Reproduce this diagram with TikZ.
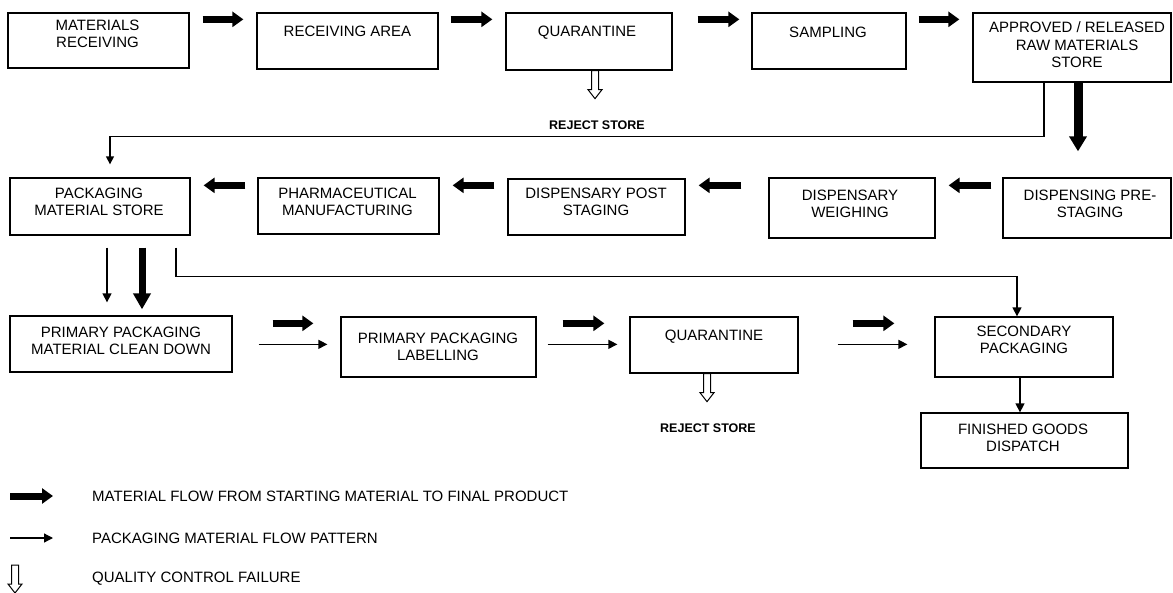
\documentclass[tikz,border=0pt]{standalone}
\usepackage{fontspec}
\setmainfont{Liberation Sans}
\usetikzlibrary{arrows.meta}

\begin{document}
\begin{tikzpicture}[x=1pt, y=-1pt,
  box/.style={draw, line width=1.3pt, rectangle, inner sep=0pt},
  lbl/.style={align=center, inner sep=0pt, font=\fontsize{15}{17.5}\selectfont},
  note/.style={inner sep=0pt, font=\bfseries\fontsize{12.5}{15}\selectfont},
  legend/.style={anchor=west, inner sep=0pt, font=\fontsize{15}{17.5}\selectfont},
  flow/.style={line width=7pt, -{Triangle[length=11pt,width=15pt]}},
  bigflow/.style={line width=9pt, -{Triangle[length=15pt,width=17pt]}},
  pack/.style={line width=1.3pt, -{Triangle[length=9pt,width=9pt]}},
  link/.style={line width=1.3pt},
  qcfail/.pic={\draw[line width=1pt, fill=white]
      (-3.5,0) -- (-3.5,19) -- (-7,19) -- (0,28) -- (7,19) -- (3.5,19) -- (3.5,0) -- cycle;}
]
\useasboundingbox (0,0) rectangle (1173,592);

% ---- row 1: receipt of starting materials ----
\node[box, minimum width=181pt, minimum height=55pt] (mr) at (98.5,40.5) {};
\node[box, minimum width=181pt, minimum height=56pt] (ra) at (347.5,41) {};
\node[box, minimum width=166pt, minimum height=57pt] (q1) at (589,41.5) {};
\node[box, minimum width=154pt, minimum height=56pt] (sa) at (829,41) {};
\node[box, minimum width=198pt, minimum height=69pt] (ap) at (1072,47.5) {};

\node[lbl] (mr-t) at (97.5,34) {MATERIALS\\RECEIVING};
\node[lbl] (ra-t) at (347.5,31.5) {RECEIVING AREA};
\node[lbl] (q1-t) at (587,33) {QUARANTINE};
\node[lbl] (sa-t) at (828,32) {SAMPLING};
\node[lbl] (ap-t) at (1077,45) {APPROVED / RELEASED\\RAW MATERIALS\\STORE};

% ---- row 2: dispensing and manufacture ----
\node[box, minimum width=180pt, minimum height=57pt] (pms) at (100,206.5) {};
\node[box, minimum width=181pt, minimum height=56pt] (pm) at (348.5,206) {};
\node[box, minimum width=177pt, minimum height=56pt] (dps) at (596.5,207) {};
\node[box, minimum width=166pt, minimum height=60pt] (dw) at (852,208) {};
\node[box, minimum width=168pt, minimum height=60pt] (dp) at (1087,208) {};

\node[lbl] (pms-t) at (99,202) {PACKAGING\\MATERIAL STORE};
\node[lbl] (pm-t) at (347.5,202) {PHARMACEUTICAL\\MANUFACTURING};
\node[lbl] (dps-t) at (596,202) {DISPENSARY POST\\STAGING};
\node[lbl] (dw-t) at (850,204) {DISPENSARY\\WEIGHING};
\node[lbl] (dp-t) at (1090,204) {DISPENSING PRE-\\STAGING};

% ---- row 3: packaging and dispatch ----
\node[box, minimum width=222pt, minimum height=56pt] (pcd) at (121,344) {};
\node[box, minimum width=195pt, minimum height=60pt] (ppl) at (438.5,347) {};
\node[box, minimum width=168pt, minimum height=56pt] (q2) at (714,345) {};
\node[box, minimum width=178pt, minimum height=60pt] (sp) at (1024,347) {};
\node[box, minimum width=207pt, minimum height=55pt] (fgd) at (1024.5,440.5) {};

\node[lbl] (pcd-t) at (121,341) {PRIMARY PACKAGING\\MATERIAL CLEAN DOWN};
\node[lbl] (ppl-t) at (438,347) {PRIMARY PACKAGING\\LABELLING};
\node[lbl] (q2-t) at (714,337) {QUARANTINE};
\node[lbl] (sp-t) at (1024,340) {SECONDARY\\PACKAGING};
\node[lbl] (fgd-t) at (1023,438) {FINISHED GOODS\\DISPATCH};

% ---- material flow, row 1 ----
\draw[flow] ([shift={(13,7)}]mr.north east) -- ([shift={(-13,7)}]ra.north west);
\draw[flow] ([shift={(12,7)}]ra.north east) -- ([shift={(-13,7)}]q1.north west);
\draw[flow] ([shift={(25,7)}]q1.north east) -- ([shift={(-12,7)}]sa.north west);
\draw[flow] ([shift={(12,7)}]sa.north east) -- ([shift={(-13,7)}]ap.north west);

% released materials go on to dispensing
\draw[bigflow] ([xshift=6pt]ap.south) -- ([shift={(-9,-26)}]dp.north);
% packaging components go to the packaging store
\draw[link, -{Triangle[length=8pt,width=8pt]}]
  ([xshift=-28pt]ap.south) -- ++(0,54) -| ([shift={(10,-13)}]pms.north);

% ---- material flow, row 2 (right to left) ----
\draw[flow] ([shift={(-11,8)}]dp.north west) -- ([shift={(13,8)}]dw.north east);
\draw[flow] ([shift={(-27,8)}]dw.north west) -- ([shift={(13,7)}]dps.north east);
\draw[flow] ([shift={(-13,7)}]dps.north west) -- ([shift={(13,8)}]pm.north east);
\draw[flow] ([shift={(-12,8)}]pm.north west) -- ([shift={(13,8)}]pms.north east);

% ---- from the packaging store ----
\draw[pack] ([shift={(7,12)}]pms.south) -- ([shift={(-14,-13)}]pcd.north);
\draw[line width=7pt, -{Triangle[length=16pt,width=17pt]}]
  ([shift={(42,12)}]pms.south) -- ([shift={(21,-6)}]pcd.north);
\draw[link, -{Triangle[length=9pt,width=9pt]}]
  ([shift={(76,12)}]pms.south) -- ++(0,29) -| ([xshift=-7pt]sp.north);

% ---- row 3 flows ----
\draw[flow] ([shift={(40,8)}]pcd.north east) -- ([shift={(-27,7)}]ppl.north west);
\draw[pack] ([shift={(26,29)}]pcd.north east) -- ([shift={(-13,28)}]ppl.north west);
\draw[flow] ([shift={(26,7)}]ppl.north east) -- ([shift={(-25,7)}]q2.north west);
\draw[pack] ([shift={(11,28)}]ppl.north east) -- ([shift={(-12,28)}]q2.north west);
\draw[flow] ([shift={(54,7)}]q2.north east) -- ([shift={(-40,7)}]sp.north west);
\draw[pack] ([shift={(39,28)}]q2.north east) -- ([shift={(-27,28)}]sp.north west);
\draw[link, -{Triangle[length=9pt,width=9pt]}]
  ([xshift=-4pt]sp.south) -- ([xshift=-4pt]sp.south |- fgd.north);

% ---- quality control failures ----
\pic at ([xshift=6pt]q1.south) {qcfail};
\node[note] (rej1) at (597,125) {REJECT STORE};
\pic at ([xshift=-7pt]q2.south) {qcfail};
\node[note] (rej2) at (708,428) {REJECT STORE};

% ---- legend ----
\coordinate (k1a) at (10,496);
\coordinate (k1b) at (53,496);
\coordinate (k2a) at (10,538);
\coordinate (k2b) at (53,538);
\coordinate (k3) at (15,565);
\draw[flow] (k1a) -- (k1b);
\node[legend] (k1t) at (92,496) {MATERIAL FLOW FROM STARTING MATERIAL TO FINAL PRODUCT};
\draw[pack] (k2a) -- (k2b);
\node[legend] (k2t) at (92,538) {PACKAGING MATERIAL FLOW PATTERN};
\pic at (k3) {qcfail};
\node[legend] (k3t) at (92,579) {QUALITY CONTROL FAILURE};
\end{tikzpicture}
\end{document}
